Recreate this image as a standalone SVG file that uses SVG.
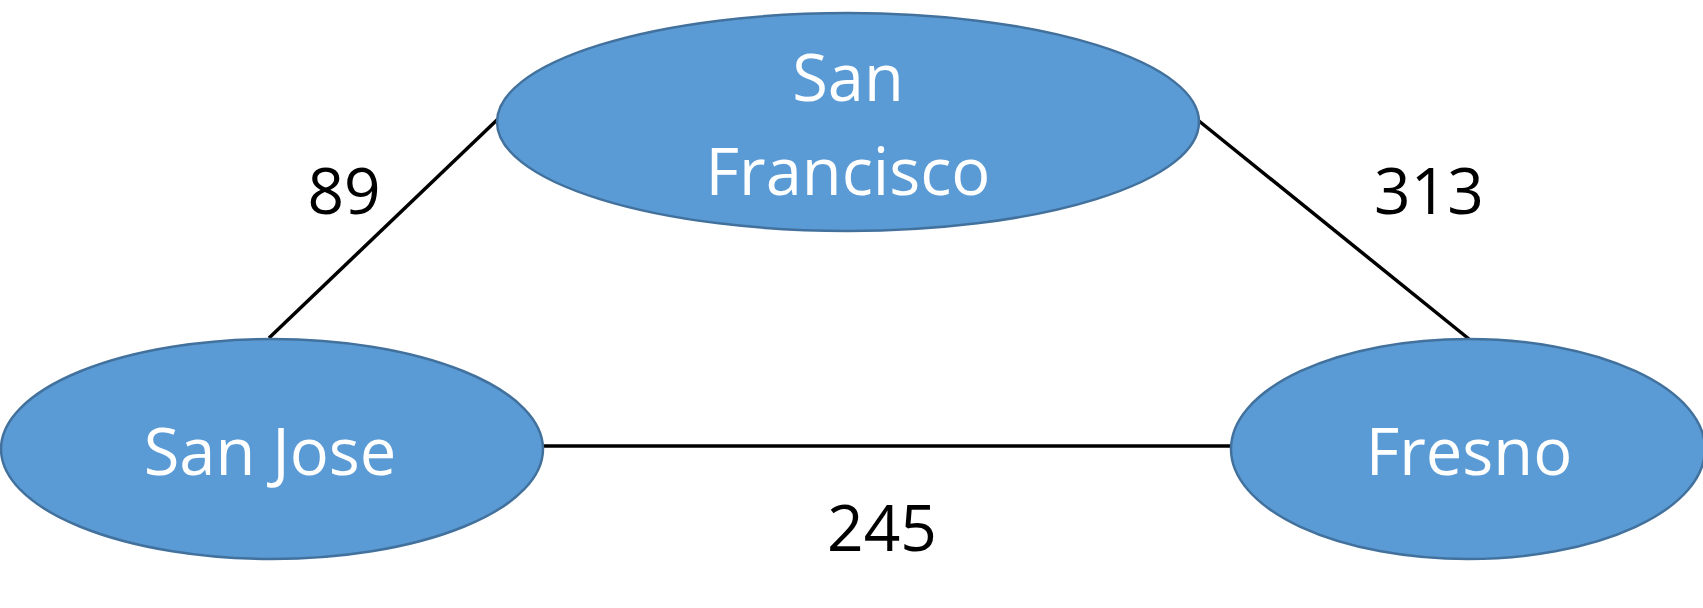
<svg xmlns="http://www.w3.org/2000/svg" width="1703" height="608" viewBox="0 0 1703 608">
<style>
.node{fill:#5B9BD5;stroke:#41719C;stroke-width:2.5}
.lbl{font-family:"Open Sans","Noto Sans",sans-serif;font-size:65px;fill:#ffffff;text-anchor:middle}
.num{font-family:"Open Sans","Noto Sans",sans-serif;font-size:64px;fill:#000000;text-anchor:middle}
.edge{stroke:#000000;stroke-width:3.5;fill:none}
</style>
<rect width="1703" height="608" fill="#ffffff"/>
<g id="connectors">
<line class="edge" x1="269" y1="338" x2="498" y2="119"/>
<line class="edge" x1="1199" y1="121" x2="1469" y2="339"/>
<line class="edge" x1="543" y1="446" x2="1231" y2="446"/>
<text class="num" x="344" y="214">89</text>
<text class="num" x="1429" y="214">313</text>
<text class="num" x="882" y="551">245</text>
</g>
<g id="san-francisco">
<ellipse class="node" cx="848" cy="122" rx="351" ry="109"/>
<text class="lbl" x="848" y="101">San</text>
<text class="lbl" x="848" y="195">Francisco</text>
</g>
<g id="san-jose">
<ellipse class="node" cx="272" cy="449" rx="271" ry="110"/>
<text class="lbl" x="270" y="475">San Jose</text>
</g>
<g id="fresno">
<ellipse class="node" cx="1468" cy="449" rx="237" ry="110"/>
<text class="lbl" x="1469" y="475">Fresno</text>
</g>
</svg>
